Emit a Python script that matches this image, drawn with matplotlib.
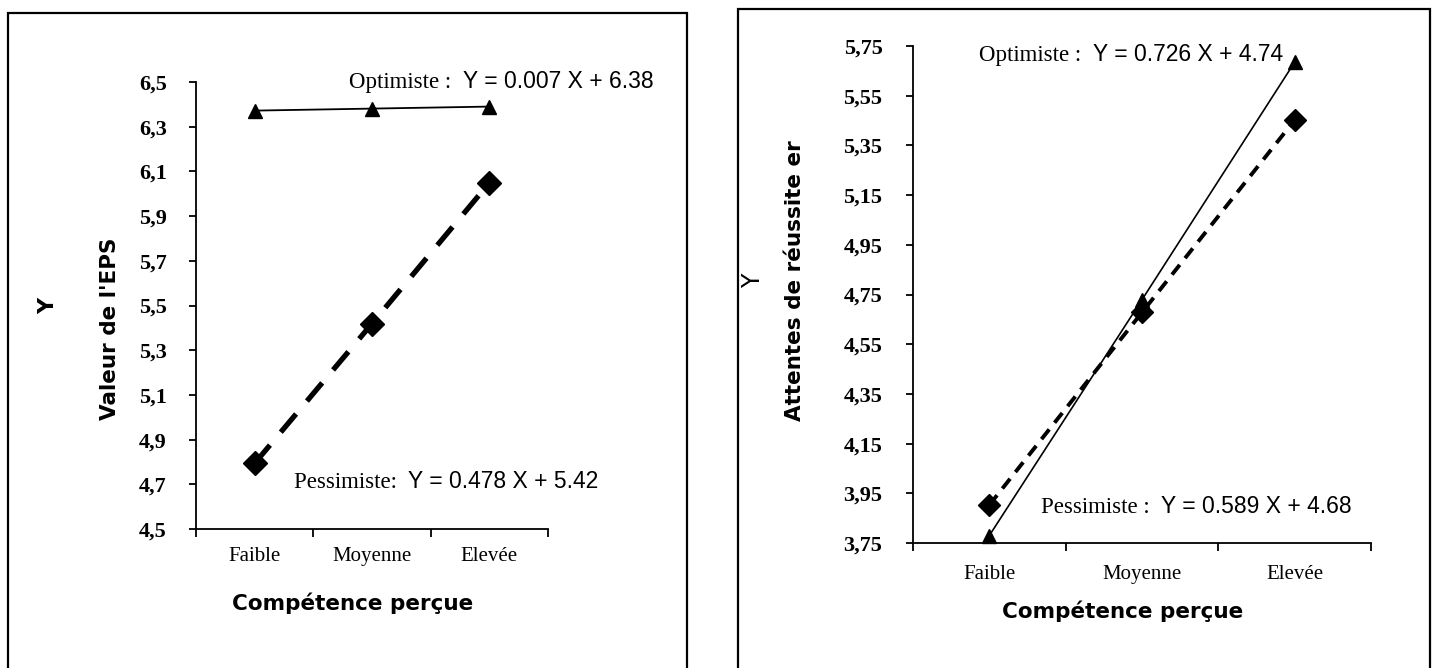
import matplotlib
matplotlib.use("Agg")
import matplotlib.pyplot as plt
from matplotlib.patches import Rectangle

# ---------------- data ----------------
categories = ["Faible", "Moyenne", "Elevée"]

left_optimiste = [6.372, 6.381, 6.390]
left_pessimiste = [4.794, 5.419, 6.049]
left_yticks = [4.5, 4.7, 4.9, 5.1, 5.3, 5.5, 5.7, 5.9, 6.1, 6.3, 6.5]
left_ylabels = ["4,5", "4,7", "4,9", "5,1", "5,3", "5,5", "5,7", "5,9", "6,1", "6,3", "6,5"]

right_optimiste = [3.780, 4.729, 5.685]
right_pessimiste = [3.903, 4.678, 5.452]
right_yticks = [3.75, 3.95, 4.15, 4.35, 4.55, 4.75, 4.95, 5.15, 5.35, 5.55, 5.75]
right_ylabels = ["3,75", "3,95", "4,15", "4,35", "4,55", "4,75", "4,95", "5,15", "5,35", "5,55", "5,75"]

left_opt_label = "Optimiste :"
left_opt_eq = "Y = 0.007 X + 6.38"
left_pes_label = "Pessimiste:"
left_pes_eq = "Y = 0.478 X + 5.42"
right_opt_label = "Optimiste :"
right_opt_eq = "Y = 0.726 X + 4.74"
right_pes_label = "Pessimiste :"
right_pes_eq = "Y = 0.589 X + 4.68"

xlabel = "Compétence perçue"
left_ylabel = "Valeur de l'EPS"
right_ylabel = "Attentes de réussite er"

# ---------------- figure ----------------
W, H = 1436, 668
fig = plt.figure(figsize=(W / 100, H / 100), dpi=100)
fig.patch.set_facecolor("white")

SERIF = "Liberation Serif"
SANS_B = "DejaVu Sans"
EQ_SANS = "Liberation Sans"


def fx(px):
    return px / W


def fy(py):
    return 1 - py / H


# panel borders
for (x0, x1, y0) in [(8, 687, 13), (738, 1430, 9.5)]:
    fig.patches.append(Rectangle((fx(x0), fy(H + 20)), fx(x1 - x0), (y0 * -1 + H + 20) / H,
                                 transform=fig.transFigure, fill=False,
                                 edgecolor="black", linewidth=1.6, clip_on=False))


def setup_axes(ax, yticks, ylabels, ymin, ymax, ypad, xpad):
    x = list(range(len(categories)))
    ax.set_xlim(-0.5, len(categories) - 0.5)
    ax.set_ylim(ymin, ymax)
    for s in ["top", "right"]:
        ax.spines[s].set_visible(False)
    for s in ["left", "bottom"]:
        ax.spines[s].set_linewidth(1.3)
    ax.set_yticks(yticks)
    ax.set_yticklabels(ylabels, fontfamily=SERIF, fontweight="bold", fontsize=16)
    ax.set_xticks(x)
    ax.set_xticklabels(categories, fontfamily=SERIF, fontsize=15)
    ax.set_xticks([i - 0.5 for i in range(len(categories) + 1)], minor=True)
    ax.tick_params(axis="x", which="major", length=0, pad=xpad)
    ax.tick_params(axis="x", which="minor", length=6, width=1.3, direction="out")
    ax.tick_params(axis="y", which="major", length=5, width=1.3, direction="out", pad=ypad)
    return x


def two_part_text(px, py, label, eq, size=16.5):
    t1 = fig.text(fx(px), fy(py), label + "  ", fontfamily=SERIF, fontsize=size,
                  ha="left", va="center_baseline")
    fig.canvas.draw()
    ann = fig.add_artist(matplotlib.text.Annotation(
        eq, xy=(1, 0), xycoords=t1, va="bottom", ha="left",
        fontfamily=EQ_SANS, fontsize=size))
    return t1, ann


# ---- left panel ----
axL = fig.add_axes([fx(196), fy(529), fx(548 - 196), (529 - 82) / H])
xL = setup_axes(axL, left_yticks, left_ylabels, 4.5, 6.5, ypad=16, xpad=13)
axL.plot(xL, left_optimiste, color="black", linewidth=1.3, marker="^", markersize=10,
         clip_on=False, zorder=3)
axL.plot(xL, left_pessimiste, color="black", linewidth=3.8, linestyle=(0, (4.5, 3.2)),
         marker="D", markersize=12, clip_on=False, zorder=3)

fig.text(fx(353), fy(603), xlabel, fontfamily=SANS_B, fontweight="bold", fontsize=15.5,
         ha="center", va="center")
fig.text(fx(48), fy(306), "Y", fontfamily=SANS_B, fontweight="bold", fontsize=16,
         rotation=90, ha="center", va="center")
fig.text(fx(110), fy(329), left_ylabel, fontfamily=SANS_B, fontweight="bold", fontsize=15.5,
         rotation=90, ha="center", va="center")

# ---- right panel ----
axR = fig.add_axes([fx(913), fy(543), fx(1371 - 913), (543 - 46) / H])
xR = setup_axes(axR, right_yticks, right_ylabels, 3.75, 5.75, ypad=17, xpad=16)
axR.plot(xR, right_optimiste, color="black", linewidth=1.2, marker="^", markersize=10,
         clip_on=False, zorder=3)
axR.plot(xR, right_pessimiste, color="black", linewidth=2.8, linestyle=(0, (3.2, 2.2)),
         marker="D", markersize=11, clip_on=False, zorder=3)

fig.text(fx(1123), fy(611), xlabel, fontfamily=SANS_B, fontweight="bold", fontsize=15.5,
         ha="center", va="center")
fig.text(fx(753), fy(281), "Y", fontfamily=SANS_B, fontsize=17,
         rotation=90, ha="center", va="center")
fig.text(fx(795), fy(281), right_ylabel, fontfamily=SANS_B, fontweight="bold", fontsize=15.5,
         rotation=90, ha="center", va="center")

# ---- annotations ----
fig.canvas.draw()
two_part_text(349, 80, left_opt_label, left_opt_eq)
two_part_text(294, 480, left_pes_label, left_pes_eq)
two_part_text(979, 53, right_opt_label, right_opt_eq)
two_part_text(1041, 505, right_pes_label, right_pes_eq)

fig.savefig("out.png", dpi=100, facecolor="white")
